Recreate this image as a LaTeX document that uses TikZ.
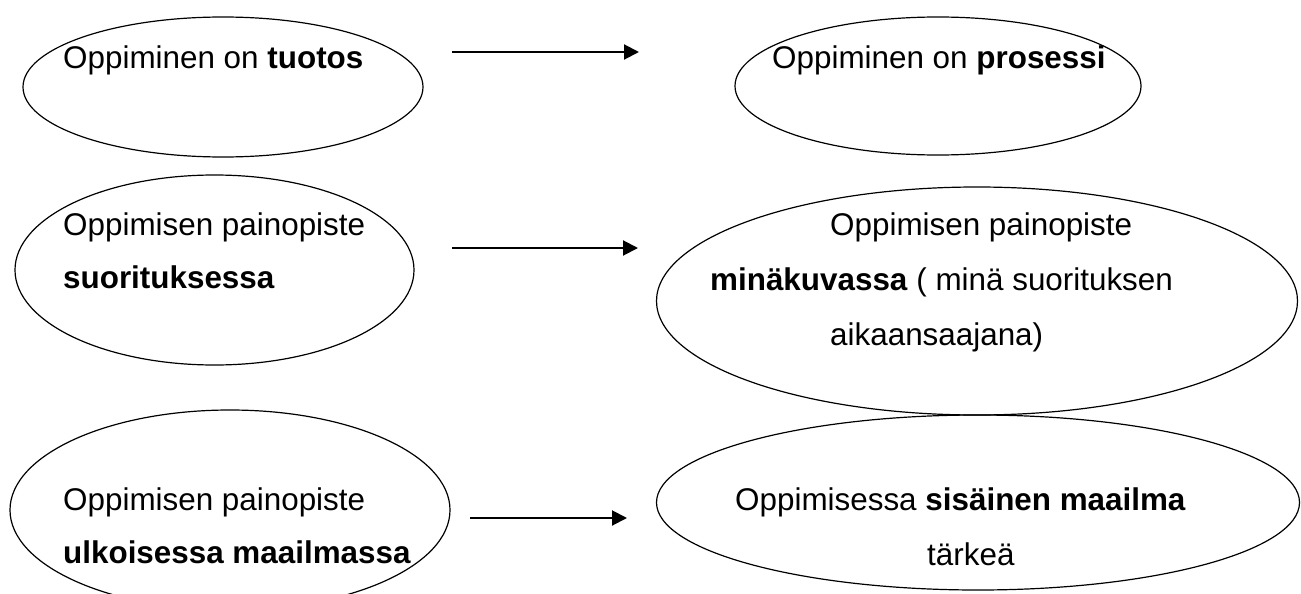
\documentclass[tikz,border=0pt]{standalone}
\usepackage{fontspec}
\setmainfont{Liberation Sans}
\usetikzlibrary{shapes.geometric,arrows.meta}
\tikzset{
  ell/.style={draw=black, line width=1.2pt, ellipse, inner sep=0pt},
  lbl/.style={anchor=base west, inner sep=0pt, font=\fontsize{31.4}{31.4}\selectfont},
  arr/.style={line width=2pt, -{Triangle[length=15pt,width=15pt]}}
}
\begin{document}
\begin{tikzpicture}[x=1pt,y=-1pt]
\useasboundingbox (0,0) rectangle (1301,594);
\clip (0,0) rectangle (1301,594);
\fill[white] (0,0) rectangle (1301,594);
% ellipses
\node[ell, minimum width=400pt, minimum height=140pt] (e1) at (223,87) {};
\node[ell, minimum width=406pt, minimum height=138pt] (e2) at (938,86) {};
\node[ell, minimum width=399pt, minimum height=190pt] (e3) at (214.5,270) {};
\node[ell, minimum width=641pt, minimum height=228pt] (e4) at (977,301) {};
\node[ell, minimum width=440pt, minimum height=200pt] (e5) at (230,510) {};
\node[ell, minimum width=643pt, minimum height=175pt] (e6) at (978,502.5) {};
% texts
\node[lbl] (t1) at (63,68) {Oppiminen on \textbf{tuotos}};
\node[lbl] (t2) at (772,68) {Oppiminen on \textbf{prosessi}};
\node[lbl] (t3a) at (63,235) {Oppimisen painopiste};
\node[lbl] (t3b) at (63,288) {\textbf{suorituksessa}};
\node[lbl] (t4a) at (830,235) {Oppimisen painopiste};
\node[lbl] (t4b) at (710,290) {\textbf{minäkuvassa} ( minä suorituksen};
\node[lbl] (t4c) at (830,345) {aikaansaajana)};
\node[lbl] (t5a) at (63,510) {Oppimisen painopiste};
\node[lbl] (t5b) at (63,563) {\textbf{ulkoisessa maailmassa}};
\node[lbl] (t6a) at (735,510) {Oppimisessa \textbf{sisäinen maailma}};
\node[lbl] (t6b) at (927,565) {tärkeä};
% arrows
\coordinate (a1s) at (452,52);  \coordinate (a1e) at (639,52);
\coordinate (a2s) at (452,248); \coordinate (a2e) at (638,248);
\coordinate (a3s) at (470,518); \coordinate (a3e) at (627,518);
\draw[arr] (a1s) -- (a1e);
\draw[arr] (a2s) -- (a2e);
\draw[arr] (a3s) -- (a3e);
\end{tikzpicture}
\end{document}
